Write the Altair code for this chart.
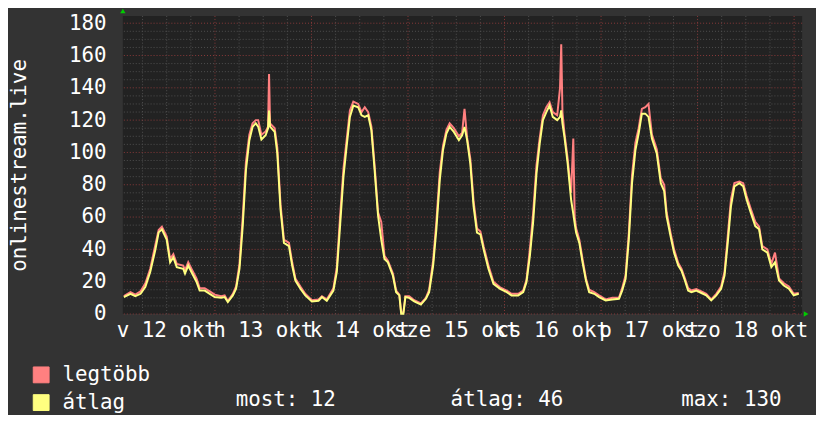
import altair as alt
import pandas as pd

# ---- data (hours since Sun 12 Oct 00:00) ----
hours = [1.35, 3.0, 4.2, 5.5, 6.7, 7.9, 9.2, 10.0, 10.8, 12.0, 12.85, 13.65, 14.5, 16.1, 16.55, 17.35, 18.15,
         19.4, 20.2, 21.45, 22.7, 23.95, 25.55, 26.4, 27.2, 28.45, 29.25, 30.1, 30.9, 31.7, 32.55, 33.35,
         34.15, 34.75, 35.55, 36.6, 37.2, 37.45, 37.7, 38.85, 39.5, 40.3, 41.15, 42.4, 43.2, 44.0, 45.25,
         46.45, 48.1, 49.75, 50.6, 51.8, 53.45, 54.3, 55.1, 55.95, 56.75, 57.55, 58.4, 59.6, 60.45, 61.25,
         62.1, 62.9, 63.7, 64.55, 65.35, 66.15, 67.0, 68.25, 69.05, 69.85, 70.3, 70.85, 71.35, 72.3, 73.55,
         75.2, 76.45, 77.25, 78.25, 79.05, 79.9, 80.7, 81.55, 82.35, 83.4, 84.65, 85.45, 86.05, 86.7, 87.5,
         88.3, 89.15, 90.0, 90.8, 92.0, 93.25, 94.9, 96.55, 97.75, 99.4, 100.65, 101.45, 102.3, 103.1,
         103.95, 104.75, 105.55, 106.4, 107.2, 108.0, 109.1, 109.8, 110.1, 110.4, 110.9, 111.7, 112.55,
         113.1, 113.45, 113.8, 114.6, 115.4, 116.25, 117.05, 118.3, 119.5, 121.15, 122.8, 124.45, 125.25,
         126.1, 126.9, 127.7, 128.55, 129.35, 130.15, 131.0, 131.8, 132.65, 133.85, 134.85, 135.7, 136.3,
         137.3, 138.15, 139.2, 140.0, 140.85, 141.65, 142.45, 143.7, 144.95, 146.15, 147.4, 148.65, 149.85,
         150.7, 151.5, 152.3, 153.15, 154.4, 155.35, 156.2, 157.25, 158.35, 159.3, 160.1, 161.35, 162.35,
         163.25, 164.25, 165.45, 166.7, 167.9, 169.15]
avg = [10.5, 12.5, 11, 12.5, 16.8, 26, 40, 50.5, 52.4, 46, 32, 35, 29, 28, 25, 30, 26,
       20, 14.5, 14.5, 12.5, 10.5, 10, 10.5, 7.4, 11.5, 15.6, 28, 54.4, 89, 107.6, 115.8,
       118, 116, 108, 110.6, 115, 126, 116, 112.7, 99.4, 64.7, 44, 42, 30, 20.7, 15.6,
       11.5, 7.8, 8.2, 10.5, 8.2, 14.5, 26, 54.4, 85, 104, 122, 129, 128, 123, 122,
       123, 113.7, 89, 61, 46, 34, 32, 23.7, 13.5, 11.5, 0.2, 0.2, 10.5, 10, 7.8,
       5.8, 9.4, 13.5, 30, 52.4, 83, 101.5, 111.7, 115.8, 112.7, 107.6, 110.6, 115.8, 107.6, 93,
       66.7, 50.4, 49.3, 40, 28, 18.7, 15.6, 13.5, 11.5, 11.5, 13.5, 19.7, 36, 56.5,
       87, 105.6, 120, 125, 129, 122, 120, 122, 126, 118, 109.6, 93, 70.8,
       62, 56, 50.4, 44, 32, 20.7, 13.5, 12.5, 10.5, 8.4, 9, 9.4, 14.5,
       21.7, 46, 81, 101.5, 111.7, 124, 124, 122, 108.6, 99.4, 81, 76, 60.5,
       48, 38, 30, 26.8, 20.7, 14.5, 13.5, 14.5, 13, 11.5, 8.4, 11.5, 15.6,
       23.7, 44, 66.7, 79, 81, 79, 70.8, 62.6, 54.4, 52.4, 40, 38, 29,
       32, 20.7, 17.6, 15.6, 11.5, 12.5]
peak = [11, 13.5, 12, 14, 19, 28, 43, 52, 54, 48, 34, 37, 31, 30, 27, 32, 28,
        22, 16, 16, 14, 12, 11, 11.5, 8, 12.5, 17, 31, 60, 94, 111, 118,
        120, 120, 111, 113, 116, 148.6, 118, 115, 103, 68, 46, 44, 32, 22, 17,
        12.5, 8.5, 9, 11, 9, 16, 29, 60, 90, 108, 126, 131.5, 130, 125, 128,
        125, 116, 92, 63, 57, 36, 33, 25, 14.5, 12, 1, 1, 11, 11, 8.5,
        6.5, 10, 15, 33, 57, 88, 104, 114, 118, 115, 110, 112, 127, 109, 96,
        70, 53, 51, 42, 30, 20, 16.5, 14.5, 12.5, 12.5, 14.5, 21, 40, 62,
        92, 109, 123, 128, 131, 125, 123, 140, 167, 125, 112, 96, 75,
        108.6, 60, 53, 46, 34, 22, 15, 13.5, 11.5, 9, 10, 10, 16,
        24, 50, 86, 106, 115, 127, 128, 130, 111, 102, 84, 80, 63,
        50, 40, 31.5, 28, 22, 16, 14.5, 15.5, 14, 12.5, 9, 12.5, 17,
        26, 48, 71, 81, 82, 81, 73, 65, 57, 54, 42, 40, 31,
        38, 22, 19, 17, 12.5, 13]

series_names = ["legtöbb", "átlag"]
series_colors = ["#ff8080", "#ffff80"]

y_minor = [5, 10, 15, 25, 30, 35, 45, 50, 55, 65, 70, 75, 85, 90, 95, 105, 110, 115,
           125, 130, 135, 145, 150, 155, 165, 170, 175]
y_major = [0, 20, 40, 60, 80, 100, 120, 140, 160, 180]
x_minor = [6, 12, 18, 30, 36, 42, 54, 60, 66, 78, 84, 90, 102, 108, 114, 126, 132, 138, 150, 156, 162]
x_major = [24, 48, 72, 96, 120, 144, 168]
day_labels = ["v 12 okt", "h 13 okt", "k 14 okt", "sze 15 okt", "cs 16 okt", "p 17 okt", "szo 18 okt"]
day_centers = [12, 36, 60, 84, 108, 132, 156]
stat_texts = ["most: 12", "átlag: 46", "max: 130"]
y_title = "onlinestream.live"

FONT = "DejaVu Sans Mono"
W, H = 686, 301

xscale = alt.Scale(domain=[1.1, 170], nice=False, zero=False)
yscale = alt.Scale(domain=[0, 184.5], nice=False, zero=True)

df = pd.concat([
    pd.DataFrame({"h": hours, "v": peak, "s": series_names[0]}),
    pd.DataFrame({"h": hours, "v": avg, "s": series_names[1]}),
])

cscale = alt.Scale(domain=series_names, range=series_colors)
legend = alt.Legend(
    title=None, orient="none", legendX=-93, legendY=352, direction="vertical",
    symbolType="square", symbolSize=256, symbolStrokeWidth=1, symbolStrokeColor="#000000",
    symbolOpacity=1,
    labelFont=FONT, labelFontSize=21, labelColor="#ffffff", labelOffset=11, rowPadding=6, padding=0,
)

yaxis = alt.Axis(
    values=y_major, grid=False, domain=False, ticks=False, labelPadding=17,
    labelFont=FONT, labelFontSize=21, labelColor="#ffffff",
    title=y_title, titleFont=FONT, titleFontSize=21, titleColor="#ffffff", titleFontWeight="normal",
    titleAngle=270, titleX=-104, titleY=150.5, titleAlign="center", titleBaseline="middle")

# empty square layer that carries the y axis and the filled legend symbols
legend_layer = alt.Chart(df).transform_filter("false").mark_square(filled=True, opacity=1).encode(
    x=alt.X("h:Q", scale=xscale, axis=None),
    y=alt.Y("v:Q", scale=yscale, axis=yaxis),
    color=alt.Color("s:N", scale=cscale, legend=legend))

grid_y_minor = alt.Chart(pd.DataFrame({"v": y_minor})).mark_rule(
    color="#505050", strokeDash=[1, 2], strokeWidth=1).encode(
    y=alt.Y("v:Q", scale=yscale, axis=yaxis))
grid_x_minor = alt.Chart(pd.DataFrame({"h": x_minor})).mark_rule(
    color="#505050", strokeDash=[1, 2], strokeWidth=1).encode(
    x=alt.X("h:Q", scale=xscale, axis=None))
grid_y_major = alt.Chart(pd.DataFrame({"v": y_major})).mark_rule(
    color="#8a3a3a", strokeDash=[1, 2], strokeWidth=1).encode(
    y=alt.Y("v:Q", scale=yscale, axis=yaxis))
grid_x_major = alt.Chart(pd.DataFrame({"h": x_major})).mark_rule(
    color="#8a3a3a", strokeDash=[1, 2], strokeWidth=1).encode(
    x=alt.X("h:Q", scale=xscale, axis=None))

line_max = alt.Chart(df).transform_filter(alt.datum.s == series_names[0]).mark_line(
    strokeWidth=2, interpolate="linear").encode(
    x=alt.X("h:Q", scale=xscale, axis=None),
    y=alt.Y("v:Q", scale=yscale, axis=yaxis),
    color=alt.Color("s:N", scale=cscale, legend=None))
line_avg = alt.Chart(df).transform_filter(alt.datum.s == series_names[1]).mark_line(
    strokeWidth=2, interpolate="linear").encode(
    x=alt.X("h:Q", scale=xscale, axis=None),
    y=alt.Y("v:Q", scale=yscale, axis=yaxis),
    color=alt.Color("s:N", scale=cscale, legend=None))

day_text = alt.Chart(pd.DataFrame({"c": day_centers, "t": day_labels})).mark_text(
    font=FONT, fontSize=21, color="#ffffff", align="center", baseline="alphabetic").encode(
    x=alt.X("c:Q", scale=xscale, axis=None), y=alt.value(324), text="t:N")

stat_x = [114, 331, 564]
stats = [
    alt.Chart(pd.DataFrame({"t": [txt]})).mark_text(
        font=FONT, fontSize=21, color="#ffffff", align="left", baseline="alphabetic").encode(
        x=alt.value(px), y=alt.value(394), text="t:N")
    for txt, px in zip(stat_texts, stat_x)
]

arrows = [
    alt.Chart(pd.DataFrame({"a": [0]})).mark_point(shape="triangle-up", filled=True, color="#00cc00",
                                                  size=30, opacity=1).encode(x=alt.value(0), y=alt.value(-5)),
    alt.Chart(pd.DataFrame({"a": [0]})).mark_point(shape="triangle-right", filled=True, color="#00cc00",
                                                  size=30, opacity=1).encode(x=alt.value(690), y=alt.value(301)),
]

chart = alt.layer(
    legend_layer, grid_y_minor, grid_x_minor, grid_y_major, grid_x_major,
    line_max, line_avg, day_text, *stats, *arrows
).properties(
    width=W, height=H,
    autosize=alt.AutoSizeParams(type="none"),
    padding={"left": 116, "top": 6, "right": 14, "bottom": 100},
    background="#333333",
).configure_view(fill="#222222", stroke=None)

chart.save("out.html", embed_options={"renderer": "svg", "actions": False})
